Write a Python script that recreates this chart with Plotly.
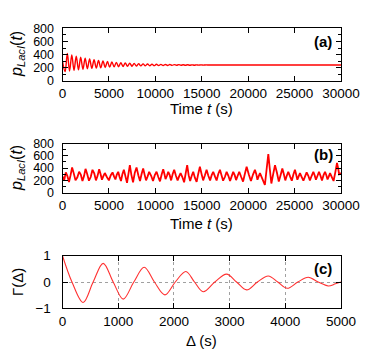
import plotly.graph_objects as go

# ---------------- panel (a): deterministic damped oscillation ----------------
a_start_t = [0]
a_start_v = [300]
a_trough_t = [280, 760, 1240, 1720, 2200, 2680, 3160, 3640, 4120, 4600, 5080, 5560,
              6040, 6520, 7000, 7480, 7960, 8440, 8920, 9400, 9880, 10360, 10840, 11320,
              11800, 12280, 12760, 13240, 13720, 14200, 14680, 15160]
a_trough_v = [142, 152, 162, 170, 178, 185, 191, 197, 202, 206, 210, 214, 217, 220, 223, 225,
              227, 229, 231, 232, 233, 234, 235, 236, 237, 238, 238.5, 239, 239.5, 240, 240.5, 241]
a_peak_t = [520, 1000, 1480, 1960, 2440, 2920, 3400, 3880, 4360, 4840, 5320, 5800,
            6280, 6760, 7240, 7720, 8200, 8680, 9160, 9640, 10120, 10600, 11080, 11560,
            12040, 12520, 13000, 13480, 13960, 14440, 14920, 15400]
a_peak_v = [420, 397, 377, 360, 346, 334, 322, 312, 304, 296, 289, 283, 278, 274, 270, 266,
            263, 260, 258, 256, 254, 252, 251, 250, 249, 248, 247, 246, 245.5, 245, 244.5, 244]
a_tail_t = [16000, 30000]
a_tail_v = [242, 242]

# ---------------- panel (b): stochastic trajectory ----------------
b_t = [0, 180, 356, 700, 1035, 1400, 1790, 2150, 2480, 2850, 3230, 3600, 3950, 4250, 4560,
       5000, 5390, 5700, 6000, 6300, 6610, 6950, 7255, 7600, 7975, 8350, 8690, 9000, 9335,
       9750, 10130, 10500, 10850, 11100, 11390, 11700, 12030, 12400, 12720, 13100, 13430,
       13750, 14080, 14450, 14800, 15150, 15520, 15900, 16235, 16600, 16960, 17300, 17680,
       18050, 18390, 18700, 19040, 19450, 19835, 20300, 20730, 21000, 21270, 21800, 22170,
       22500, 22890, 23300, 23680, 24000, 24320, 24700, 25040, 25300, 25580, 25950, 26300,
       26650, 27020, 27300, 27630, 27950, 28280, 28550, 28820, 29200, 29570, 29800, 30000]
b_v = [260, 200, 330, 175, 411, 200, 340, 190, 388, 195, 372, 200, 381, 210, 320,
       200, 330, 215, 340, 190, 372, 160, 448, 170, 411, 190, 395, 200, 340,
       190, 340, 185, 380, 220, 340, 200, 372, 200, 318, 170, 448,
       190, 340, 175, 421, 200, 372, 200, 340, 200, 372, 195, 340,
       190, 340, 205, 340, 180, 421, 190, 372, 210, 318, 125, 626,
       150, 448, 180, 394, 200, 340, 195, 372, 210, 318, 195, 330,
       200, 340, 210, 340, 200, 340, 215, 318, 190, 485, 300, 318]
# small intermediate bumps of the noisy trace
b_mid_t = [90, 520, 870, 1220, 1600, 1970, 2320, 2660, 3040, 3420, 3770, 4100, 4400, 4780,
           5200, 5550, 5850, 6150, 6450, 7100, 7420, 7790, 8170, 8520, 8850, 9170, 9550, 9940,
           10320, 10680, 10980, 11250, 11550, 11870, 12220, 12560, 12910, 13270, 13590, 13920,
           14260, 14620, 14980, 15340, 15710, 16070, 16420, 16780, 17130, 17490, 17870, 18220,
           18550, 18870, 19250, 19640, 20070, 20520, 20870, 21130, 21530, 21990, 22330, 22700,
           23100, 23490, 23840, 24160, 24510, 24870, 25170, 25440, 25770, 26130, 26480, 26840,
           27160, 27470, 27790, 28120, 28420, 28690, 29010, 29390, 29690, 29900]
b_mid_v = [245, 275, 285, 310, 250, 295, 270, 305, 255, 315, 270, 305, 270, 255,
           285, 265, 295, 255, 300, 300, 290, 325, 285, 305, 290, 265, 275, 285,
           255, 295, 305, 275, 285, 305, 275, 265, 255, 315, 285, 275,
           245, 305, 305, 285, 275, 285, 265, 305, 285, 255, 275, 265,
           285, 275, 255, 305, 295, 295, 305, 265, 225, 385, 385, 305,
           325, 285, 305, 275, 265, 295, 295, 265, 255, 265, 275, 275,
           285, 275, 275, 285, 285, 265, 255, 335, 400, 310]

# ---------------- panel (c): autocorrelation ----------------
c_lag = [0, 170, 370, 550, 730, 910, 1090, 1280, 1467, 1650, 1838, 2025, 2215, 2370, 2526,
         2735, 2946, 3125, 3306, 3500, 3694, 3865, 4035, 4225, 4412, 4590, 4771, 4900, 5000]
c_gamma = [1.0, 0.0, -0.78, 0.0, 0.71, 0.0, -0.65, 0.0, 0.56, 0.0, -0.49, 0.0, 0.40, 0.0, -0.37,
           0.0, 0.30, 0.0, -0.30, 0.0, 0.23, 0.0, -0.24, 0.0, 0.18, 0.0, -0.15, -0.07, 0.0]

# interleave points by time
a_pts = sorted(zip(a_start_t + a_trough_t + a_peak_t + a_tail_t,
                   a_start_v + a_trough_v + a_peak_v + a_tail_v))
a_t = [p[0] for p in a_pts]
a_v = [p[1] for p in a_pts]
b_pts = sorted(zip(b_t + b_mid_t, b_v + b_mid_v))
b_all_t = [p[0] for p in b_pts]
b_all_v = [p[1] for p in b_pts]

FONT = "Liberation Sans"
RED = "#ff0000"

fig = go.Figure()
fig.add_trace(go.Scatter(x=a_t, y=a_v, mode="lines", line=dict(color=RED, width=1.4, shape="spline"),
                         xaxis="x", yaxis="y", showlegend=False))
fig.add_trace(go.Scatter(x=b_all_t, y=b_all_v, mode="lines", line=dict(color=RED, width=1.8),
                         xaxis="x2", yaxis="y2", showlegend=False))
fig.add_trace(go.Scatter(x=c_lag, y=c_gamma, mode="lines", line=dict(color="#ff3030", width=1.1, shape="spline"),
                         xaxis="x3", yaxis="y3", showlegend=False))

W, H = 382, 355
xdom = [62.5 / W, 341 / W]
doms = {
    "a": [1 - 81 / H, 1 - 28.3 / H],
    "b": [1 - 192.7 / H, 1 - 143.5 / H],
    "c": [1 - 308.3 / H, 1 - 255.7 / H],
}

axbase = dict(showline=True, linecolor="black", linewidth=1, mirror="ticks", ticks="inside",
              ticklen=5, tickcolor="black", tickwidth=1, zeroline=False, automargin=False,
              tickfont=dict(family=FONT, size=13.5, color="black"))
yfont = dict(family=FONT, size=12.5, color="black")

fig.update_layout(
    width=W, height=H, margin=dict(l=0, r=0, t=0, b=0, autoexpand=False),
    plot_bgcolor="white", paper_bgcolor="white",
    font=dict(family=FONT, color="black"),
    xaxis=dict(axbase, domain=xdom, anchor="y", range=[0, 30000], dtick=5000, tickformat="d",
               showgrid=False),
    yaxis=dict(axbase, domain=doms["a"], anchor="x", range=[0, 800], dtick=200, showgrid=False,
               ticklabelstandoff=5, tickfont=yfont,
               minor=dict(dtick=100, ticks="inside", ticklen=3, tickcolor="black")),
    xaxis2=dict(axbase, domain=xdom, anchor="y2", range=[0, 30000], dtick=5000, tickformat="d",
                showgrid=False),
    yaxis2=dict(axbase, domain=doms["b"], anchor="x2", range=[0, 800], dtick=200, showgrid=False,
                ticklabelstandoff=5, tickfont=yfont,
                minor=dict(dtick=100, ticks="inside", ticklen=3, tickcolor="black")),
    xaxis3=dict(axbase, domain=xdom, anchor="y3", range=[0, 5000], dtick=1000, tickformat="d",
                showgrid=True, gridcolor="#a0a0a0", griddash="dot", gridwidth=1),
    yaxis3=dict(axbase, domain=doms["c"], anchor="x3", range=[-1, 1], dtick=1, showgrid=True,
                gridcolor="#a0a0a0", griddash="dot", gridwidth=1, ticklabelstandoff=8),
)

ann = []
# panel labels
for lab, yc in [("(a)", 42), ("(b)", 154.5), ("(c)", 268)]:
    ann.append(dict(text="<b>%s</b>" % lab, x=323 / W, y=1 - yc / H, xref="paper", yref="paper",
                    showarrow=False, xanchor="center", yanchor="middle",
                    font=dict(family=FONT, size=15, color="black")))
# x titles
for txt, yc in [("Time <i>t</i> (s)", 108), ("Time <i>t</i> (s)", 223), ("Δ (s)", 340)]:
    ann.append(dict(text=txt, x=202 / W, y=1 - yc / H, xref="paper", yref="paper",
                    showarrow=False, xanchor="center", yanchor="middle",
                    font=dict(family=FONT, size=15, color="black")))
# y titles
ptitle = "<i>p</i><sub><i>LacI</i></sub>(<i>t</i>)"
for txt, yc, sz in [(ptitle, 54, 16), (ptitle, 168, 16), ("Γ(Δ)", 282, 15)]:
    ann.append(dict(text=txt, x=17 / W, y=1 - yc / H, xref="paper", yref="paper",
                    showarrow=False, xanchor="center", yanchor="middle", textangle=-90,
                    font=dict(family=FONT, size=sz, color="black")))
fig.update_layout(annotations=ann)

fig.write_html("out.html", config={"displayModeBar": False},
               post_script="document.body.style.margin='0';document.body.style.overflow='hidden';")
